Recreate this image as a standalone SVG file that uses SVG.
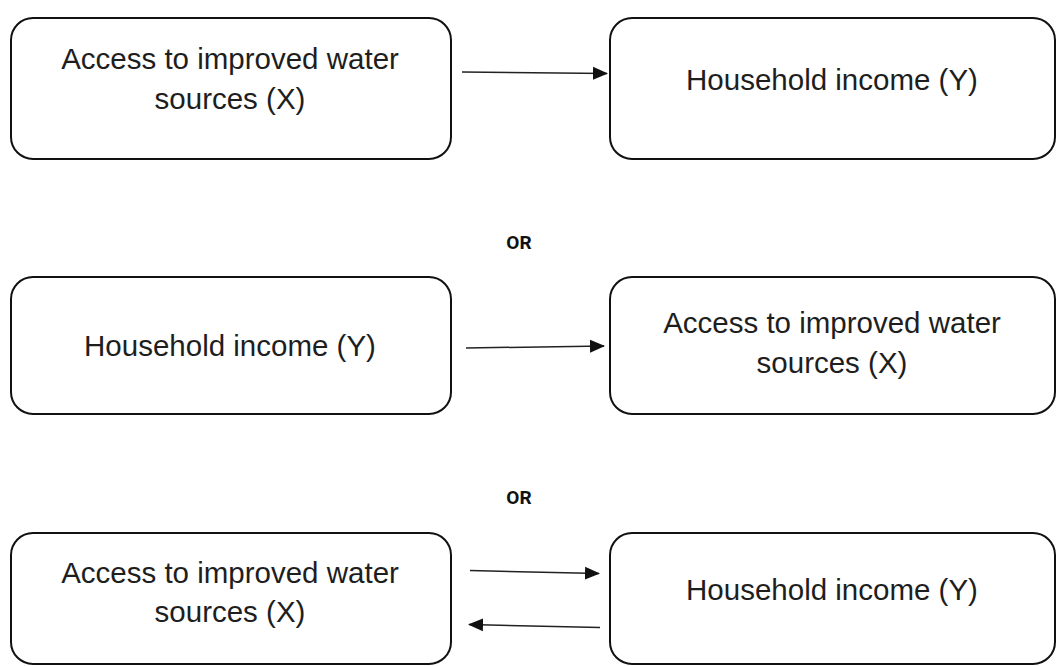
<svg xmlns="http://www.w3.org/2000/svg" width="1060" height="666" viewBox="0 0 1060 666">
<defs>
<marker id="ah" markerWidth="15" markerHeight="14" refX="14" refY="7" orient="auto" markerUnits="userSpaceOnUse">
<path d="M0,0.5 L15,7 L0,13.5 Z" fill="#111"/>
</marker>
<style>
.box{fill:#fff;stroke:#111;stroke-width:2}
.t{font-size:29.5px;fill:#1e1e1e;text-anchor:middle}
.or{font-size:19px;font-weight:bold;fill:#111;text-anchor:middle}
.c{stroke:#222;stroke-width:1.5;fill:none;marker-end:url(#ah)}
</style>
</defs>
<rect width="1060" height="666" fill="#fff"/>
<g font-family="'Liberation Sans', Arimo, Arial, sans-serif">
<g id="n1"><rect class="box" x="11" y="18" width="440" height="141" rx="22"/>
<text class="t" x="230" y="69">Access to improved water</text>
<text class="t" x="230" y="109">sources (X)</text></g>
<g id="n2"><rect class="box" x="610" y="18" width="445" height="141" rx="22"/>
<text class="t" x="832" y="90">Household income (Y)</text></g>
<g id="n3"><rect class="box" x="11" y="277" width="440" height="137" rx="22"/>
<text class="t" x="230" y="356">Household income (Y)</text></g>
<g id="n4"><rect class="box" x="610" y="277" width="445" height="137" rx="22"/>
<text class="t" x="832" y="333">Access to improved water</text>
<text class="t" x="832" y="373">sources (X)</text></g>
<g id="n5"><rect class="box" x="11" y="533" width="440" height="131" rx="22"/>
<text class="t" x="230" y="583">Access to improved water</text>
<text class="t" x="230" y="622">sources (X)</text></g>
<g id="n6"><rect class="box" x="610" y="533" width="445" height="131" rx="22"/>
<text class="t" x="832" y="600">Household income (Y)</text></g>
</g>
<g font-family="Roboto, 'Liberation Sans', sans-serif">
<g id="or1"><text class="or" x="519" y="249">OR</text></g>
<g id="or2"><text class="or" x="519" y="504">OR</text></g>
</g>
<g id="connectors">
<path class="c" d="M462,72 L607,73.5"/>
<path class="c" d="M466,348 L604,346"/>
<path class="c" d="M470,570.5 L599,573.5"/>
<path class="c" d="M600,627.5 L469,624.5"/>
</g>
</svg>
